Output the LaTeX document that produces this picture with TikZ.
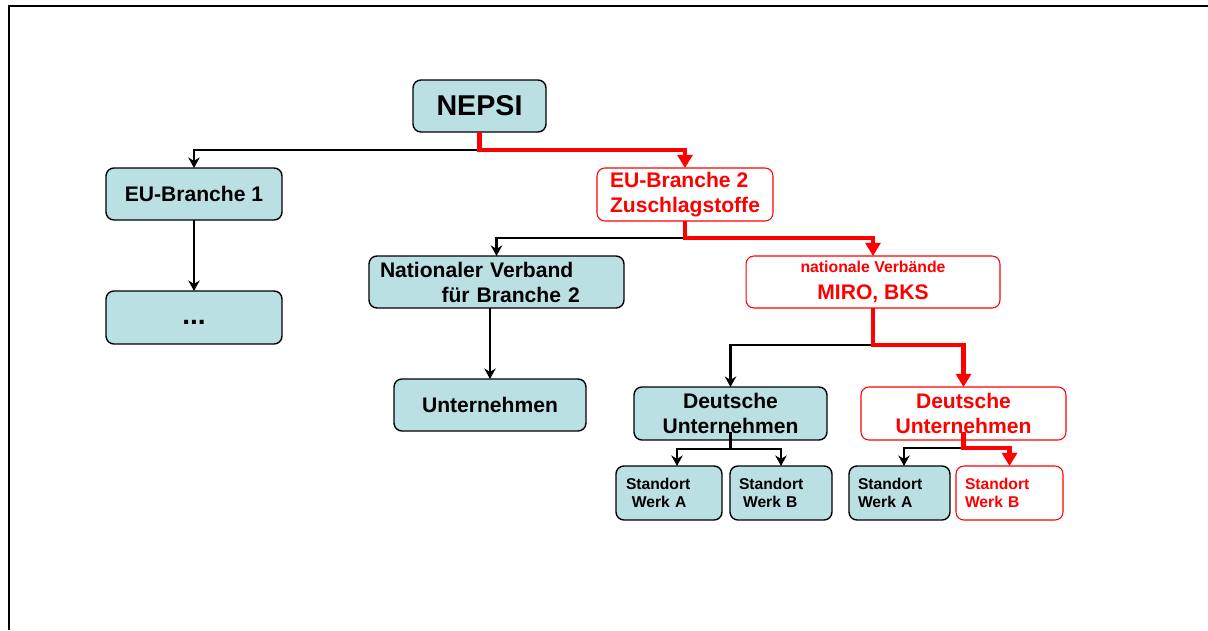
\documentclass[tikz,border=0pt]{standalone}
\usepackage{fontspec}
\setmainfont{Liberation Sans}
\usetikzlibrary{arrows.meta}
\definecolor{myteal}{RGB}{187,224,228}
\definecolor{myred}{RGB}{255,0,0}
\tikzset{
  box/.style={draw=black, line width=0.8pt, fill=myteal, rounded corners=4.5pt, inner sep=0pt, outer sep=0pt},
  redbox/.style={draw=myred, line width=0.6pt, fill=white, text=myred, rounded corners=4.5pt, inner sep=0pt, outer sep=0pt},
  fbig/.style={font=\bfseries\fontsize{12}{14.2}\selectfont},
  fsmall/.style={font=\bfseries\fontsize{8.9}{9.8}\selectfont},
  link/.style={draw=black, line width=1.3pt, -{Stealth[length=6pt,width=6.5pt]}},
  redlink/.style={draw=myred, line width=2.6pt, -{Triangle[length=7.5pt,width=8.5pt]}},
}

\begin{document}
\begin{tikzpicture}[x=0.02cm, y=-0.02cm]
    \useasboundingbox (0,0) rectangle (1208,630);
    % frame
    \draw[line width=1.2pt] (9,630) -- (9,6) -- (1208,6);

    % top
    \node[box, minimum width=2.66cm, minimum height=1.04cm, font=\bfseries\fontsize{16.3}{19}\selectfont] (nepsi) at (479.5,106) {NEPSI};

    % branches
    \node[box, fbig, minimum width=3.52cm, minimum height=1.04cm] (eub1) at (194,194) {EU-Branche 1};
    \node[box, minimum width=3.52cm, minimum height=1.06cm, font=\bfseries\fontsize{16}{19.2}\selectfont] (dots) at (194,317.5) {\strut...};
    \node[redbox, fbig, minimum width=3.52cm, minimum height=1.06cm, align=left] (eub2) at (685,194.5) {EU-Branche 2\\Zuschlagstoffe};

    % national level
    \node[box, fbig, text width=4.66cm, inner xsep=0.22cm, minimum height=1.04cm, align=left] (natv) at (496.5,282) {Nationaler Verband\\\hspace*{35pt}für Branche 2};
    \node[redbox, font=\bfseries\fontsize{12}{15}\selectfont, minimum width=5.08cm, minimum height=1.04cm, align=center] (miro) at (873,282) {{\fontsize{9}{11}\selectfont nationale Verbände}\\MIRO, BKS};

    % companies
    \node[box, fbig, minimum width=3.84cm, minimum height=1.04cm] (untern) at (490,405) {Unternehmen};
    \node[box, fbig, minimum width=3.86cm, minimum height=1.06cm, align=center] (dut) at (730.5,413.5) {Deutsche\\Unternehmen};
    \node[redbox, fbig, minimum width=4.1cm, minimum height=1.06cm, align=center] (dur) at (963.5,413.5) {Deutsche\\Unternehmen};

    % sites
    \node[box, fsmall, text width=1.72cm, inner xsep=0.2cm, minimum height=1.08cm, align=left] (sa1) at (669,493) {Standort\\\hspace*{3.4pt}Werk A};
    \node[box, fsmall, text width=1.68cm, inner xsep=0.18cm, minimum height=1.08cm, align=left] (sb1) at (781,493) {Standort\\\hspace*{2.3pt}Werk B};
    \node[box, fsmall, text width=1.66cm, inner xsep=0.18cm, minimum height=1.08cm, align=left] (sa2) at (899.5,493) {Standort\\Werk A};
    \node[redbox, fsmall, text width=1.78cm, inner xsep=0.18cm, minimum height=1.08cm, align=left] (sb2) at (1009.5,493) {Standort\\Werk B};

    % connectors
    \draw[link] (nepsi.south) -- ++(0,18) -| (eub1.north);
    \draw[redlink] (nepsi.south) -- ++(0,18) -| (eub2.north);
    \draw[link] (eub1) -- (dots);
    \draw[link] (eub2.south) -- ++(0,17) -| (natv.north);
    \draw[redlink] (eub2.south) -- ++(0,17) -| (miro.north);
    \draw[link] (natv.south -| untern.north) -- (untern.north);
    \draw[link] (miro.south) -- ++(0,37) -| (dut.north);
    \draw[redlink] (miro.south) -- ++(0,37) -| (dur.north);
    \draw[link] ([yshift=0.16cm]dut.south) -- ++(0,17) -| ([xshift=0.16cm]sa1.north);
    \draw[link] ([yshift=0.16cm]dut.south) -- ++(0,17) -| (sb1.north);
    \draw[link] ([yshift=0.16cm]dur.south) -- ++(0,16) -| ([xshift=0.09cm]sa2.north);
    \draw[redlink] ([yshift=0.16cm]dur.south) -- ++(0,16) -| (sb2.north);
\end{tikzpicture}
\end{document}
